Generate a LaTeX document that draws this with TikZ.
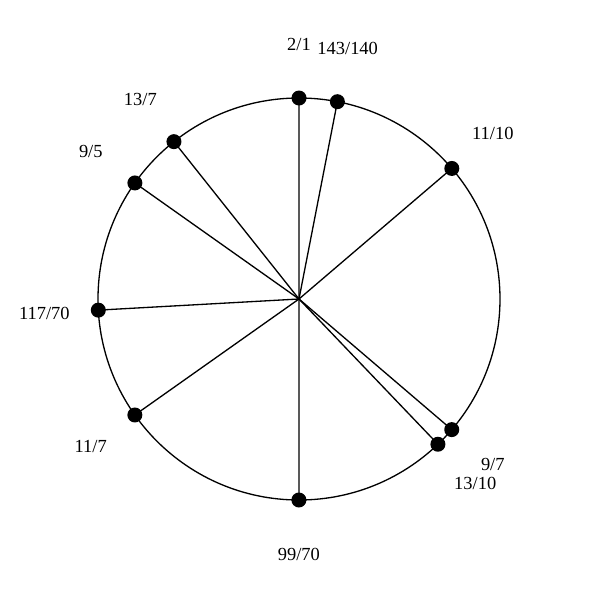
\documentclass[tikz,border=0pt]{standalone}
\usepackage{fontspec}
\setmainfont{Liberation Serif}
\usepackage{tikz}
\tikzstyle{pitch dot}=[circle,fill=black,inner sep=0pt,minimum size=3mm]
\tikzstyle{ratio label}=[font=\fontsize{10.5}{12}\selectfont,inner sep=1pt]

\begin{document}
\begin{tikzpicture}[line width=0.75pt]
		\useasboundingbox (-5.98,-6.02) rectangle (6.02,5.98);
		\coordinate (centre) at (0,0);
		\draw (centre) circle (4.02);
		\foreach \num/\den/\name in {2/1/octave,143/140/a,11/10/b,9/7/c,13/10/d,99/70/e,11/7/f,117/70/g,9/5/h,13/7/k}
		{
			\pgfmathsetmacro{\ang}{90-360*ln(\num/\den)/ln(2)}
			\node[pitch dot] (dot\name) at (\ang:4.02) {};
			\draw (centre) -- (dot\name.center);
			\node[ratio label] (lab\name) at (\ang:5.1) {\num/\den};
		}
		\end{tikzpicture}
\end{document}
